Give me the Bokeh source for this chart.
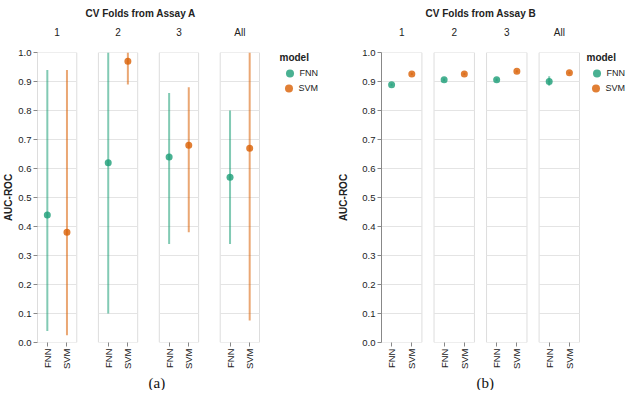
import math
from bokeh.plotting import figure
from bokeh.models import (Range1d, FixedTicker, LinearAxis, Title, Legend, LegendItem,
                          NumeralTickFormatter)
from bokeh.layouts import row
from bokeh.embed import file_html
from bokeh.resources import INLINE

# ---------------- data ----------------
folds = ["1", "2", "3", "All"]
models = ["FNN", "SVM"]
y_ticks = [0.0, 0.1, 0.2, 0.3, 0.4, 0.5, 0.6, 0.7, 0.8, 0.9, 1.0]

# Assay A (mean AUC-ROC with min/max over CV folds)
a_fnn_mean = [0.44, 0.62, 0.64, 0.57]
a_fnn_low = [0.04, 0.10, 0.34, 0.34]
a_fnn_high = [0.94, 1.00, 0.86, 0.80]
a_svm_mean = [0.38, 0.97, 0.68, 0.67]
a_svm_low = [0.025, 0.89, 0.38, 0.076]
a_svm_high = [0.94, 1.00, 0.88, 1.00]

# Assay B
b_fnn_mean = [0.889, 0.906, 0.906, 0.900]
b_fnn_low = [0.885, 0.902, 0.902, 0.885]
b_fnn_high = [0.893, 0.910, 0.910, 0.918]
b_svm_mean = [0.926, 0.926, 0.935, 0.930]
b_svm_low = [0.922, 0.922, 0.931, 0.926]
b_svm_high = [0.930, 0.930, 0.939, 0.934]

COLORS = {"FNN": "#1b9e77", "SVM": "#d95f02"}
FONT = "Liberation Sans"
TEXT = "#222222"
FRAME_H = 290


def make_panel(title, caption, data, stride, frame_w, facet_px,
               axis_line_color, ylabel_standoff, caption_offset, title_offset):
    half = 10
    centers = [i * stride for i in range(len(folds))]
    offsets = {"FNN": -5, "SVM": 5}
    span = centers[-1] + 2 * half
    ppu = facet_px / span
    x_end = centers[-1] + half + (frame_w - facet_px) / ppu
    p = figure(frame_width=frame_w, frame_height=FRAME_H, output_backend="svg",
               toolbar_location=None,
               x_range=Range1d(-half, x_end), y_range=Range1d(0, 1),
               min_border_left=0, min_border_right=0,
               min_border_top=44, min_border_bottom=0, title=None)
    p.outline_line_color = None
    p.grid.visible = False
    p.background_fill_color = None
    p.border_fill_color = "white"

    # facet boxes and grid lines
    p.quad(left=[c - half for c in centers], right=[c + half for c in centers],
           bottom=0, top=1, fill_color="white", line_color="#dddddd", line_width=1)
    gx0, gx1, gy = [], [], []
    for c in centers:
        for t in y_ticks[1:-1]:
            gx0.append(c - half); gx1.append(c + half); gy.append(t)
    p.segment(x0=gx0, x1=gx1, y0=gy, y1=gy, line_color="#e4e4e4", line_width=1)

    renderers = {}
    xticks, xlabels = [], {}
    for m in models:
        xs = [c + offsets[m] for c in centers]
        for x in xs:
            xticks.append(x); xlabels[x] = m
        mean, lo, hi = data[m]
        p.segment(x0=xs, x1=xs, y0=lo, y1=hi, line_color=COLORS[m], line_alpha=0.55,
                  line_width=2)
        renderers[m] = p.scatter(xs, mean, size=7, fill_color=COLORS[m], fill_alpha=0.8,
                                 line_color=None)

    # y axis
    ya = p.yaxis[0]
    ya.ticker = FixedTicker(ticks=y_ticks)
    ya.formatter = NumeralTickFormatter(format="0.0")
    ya.axis_label = "AUC-ROC"
    ya.axis_label_text_font = FONT
    ya.axis_label_text_font_style = "bold"
    ya.axis_label_text_font_size = "10px"
    ya.axis_label_text_color = TEXT
    ya.axis_label_standoff = ylabel_standoff
    ya.major_label_text_font = FONT
    ya.major_label_text_font_size = "9.5px"
    ya.major_label_text_color = TEXT
    ya.major_label_standoff = 2
    ya.axis_line_color = axis_line_color
    ya.major_tick_line_color = "#888888"
    ya.major_tick_out = 4
    ya.major_tick_in = 0
    ya.minor_tick_line_color = None

    # x axis (model labels)
    xa = p.xaxis[0]
    xa.ticker = FixedTicker(ticks=sorted(xticks))
    xa.major_label_overrides = xlabels
    xa.major_label_orientation = math.pi / 2
    xa.major_label_text_font = FONT
    xa.major_label_text_font_size = "9.5px"
    xa.major_label_text_color = TEXT
    xa.major_label_standoff = 2
    xa.axis_line_color = None
    xa.major_tick_line_color = "#888888"
    xa.major_tick_out = 4
    xa.major_tick_in = 0
    xa.minor_tick_line_color = None

    # facet headers
    top = LinearAxis(ticker=FixedTicker(ticks=centers),
                     major_label_overrides={c: f for c, f in zip(centers, folds)})
    top.axis_line_color = None
    top.major_tick_line_color = None
    top.minor_tick_line_color = None
    top.major_label_standoff = 9
    top.major_label_text_font = FONT
    top.major_label_text_font_size = "10px"
    top.major_label_text_color = TEXT
    p.add_layout(top, "above")
    p.add_layout(Title(text=title, align="left", text_font=FONT, text_font_size="10px",
                       text_font_style="bold", text_color=TEXT, standoff=10,
                       offset=title_offset), "above")

    # caption
    p.add_layout(Title(text=caption, align="left", text_font="Liberation Serif",
                       text_font_size="15px", text_font_style="normal", text_color="#111111",
                       offset=caption_offset, standoff=0), "below")

    # legend: two stacked legends anchored at the top-right of the frame
    common = dict(label_text_font=FONT, label_text_font_size="9px", label_text_color=TEXT,
                  glyph_width=20, glyph_height=20, label_height=20, label_width=5,
                  spacing=0, label_standoff=0, padding=0, margin=0, border_line_color=None,
                  background_fill_alpha=0, location="top_right",
                  title_text_font=FONT, title_text_font_size="10px",
                  title_text_font_style="bold", title_text_color=TEXT)
    leg1 = Legend(items=[LegendItem(label=models[0], renderers=[renderers[models[0]]])],
                  title="model", title_standoff=0, **common)
    leg2 = Legend(items=[LegendItem(label=models[1], renderers=[renderers[models[1]]])],
                  title="\u00a0", title_standoff=15, **common)
    p.add_layout(leg1, "center")
    p.add_layout(leg2, "center")
    return p


data_a = {"FNN": (a_fnn_mean, a_fnn_low, a_fnn_high), "SVM": (a_svm_mean, a_svm_low, a_svm_high)}
data_b = {"FNN": (b_fnn_mean, b_fnn_low, b_fnn_high), "SVM": (b_svm_mean, b_svm_low, b_svm_high)}

pa = make_panel("CV Folds from Assay A", "(a)", data_a, stride=31, frame_w=281, facet_px=222,
                axis_line_color="#dddddd", ylabel_standoff=1, caption_offset=111,
                title_offset=48)
pb = make_panel("CV Folds from Assay B", "(b)", data_b, stride=26, frame_w=244, facet_px=198,
                axis_line_color="#888888", ylabel_standoff=10, caption_offset=95,
                title_offset=44)

layout = row(pa, pb, spacing=17)
open("out.html", "w").write(file_html(layout, INLINE))
